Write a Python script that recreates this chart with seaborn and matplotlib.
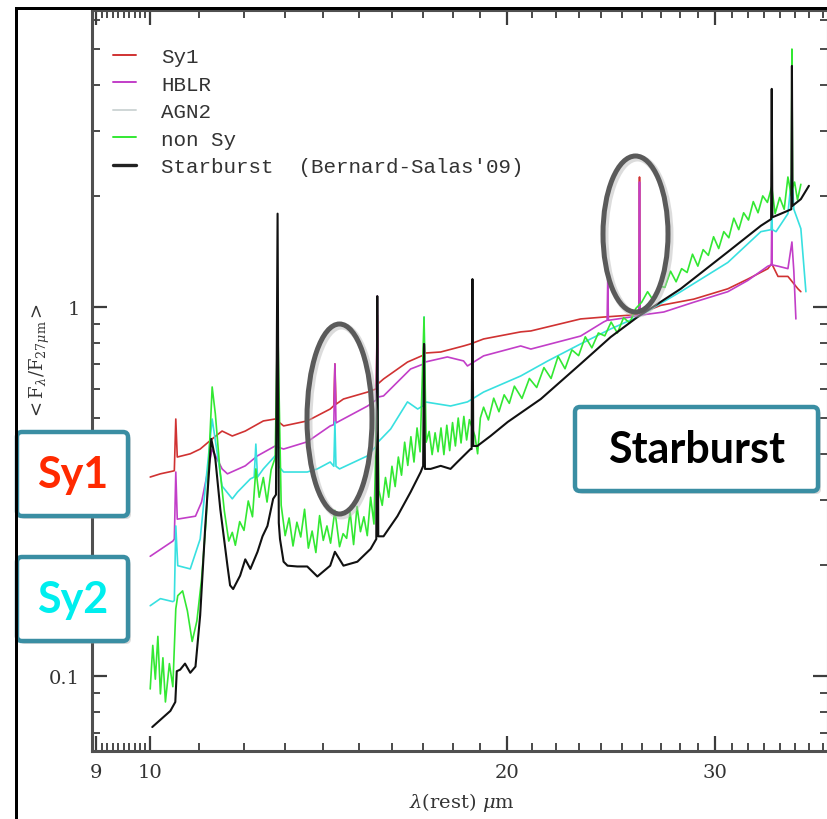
import numpy as np
import pandas as pd
import matplotlib
matplotlib.use("Agg")
import matplotlib.pyplot as plt
import seaborn as sns
from matplotlib.patches import FancyBboxPatch, Ellipse, Rectangle
from matplotlib.lines import Line2D
from matplotlib.transforms import Affine2D
from matplotlib.ticker import NullFormatter

# ---------------- data ----------------
sy1_wave = [10.00, 10.20, 10.45, 10.48, 10.51, 10.54, 10.81, 11.02, 11.28, 11.50, 11.73, 12.03,
            12.46, 12.75, 12.96, 13.57, 14.19, 14.29, 14.32, 14.35, 14.56, 15.26, 15.52, 15.55,
            15.58, 15.74, 16.49, 17.00, 17.03, 17.06, 17.59, 18.39, 18.64, 19.12, 20.55, 20.96,
            23.09, 24.15, 25.40, 25.86, 25.89, 25.92, 26.98, 28.77, 30.74, 31.96, 33.23, 33.48,
            33.89, 34.55, 35.23, 35.43]
sy1_flux = [0.346, 0.353, 0.359, 0.360, 0.497, 0.392, 0.400, 0.412, 0.439, 0.461, 0.447, 0.461,
            0.491, 0.497, 0.476, 0.491, 0.529, 0.540, 0.701, 0.545, 0.563, 0.588, 0.600, 0.950,
            0.620, 0.638, 0.709, 0.740, 0.800, 0.750, 0.755, 0.784, 0.794, 0.819, 0.856, 0.861,
            0.928, 0.939, 0.950, 0.957, 2.25, 0.960, 1.01, 1.05, 1.12, 1.19, 1.27, 1.31,
            1.21, 1.21, 1.12, 1.10]

hblr_wave = [10.00, 10.45, 10.48, 10.51, 10.54, 10.92, 11.05, 11.28, 11.50, 11.62, 12.03, 12.32,
             12.75, 12.96, 13.57, 14.19, 14.29, 14.32, 14.35, 15.26, 15.52, 15.55, 15.58, 15.74,
             16.59, 17.00, 17.03, 17.06, 17.82, 18.39, 18.53, 19.12, 20.55, 20.96, 23.09, 24.15,
             24.31, 24.34, 24.37, 25.45, 25.86, 25.89, 25.92, 27.14, 28.77, 30.74, 31.96, 33.23,
             33.45, 33.48, 33.51, 33.89, 34.55, 34.82, 34.95, 35.09]
hblr_flux = [0.211, 0.232, 0.235, 0.357, 0.266, 0.271, 0.296, 0.412, 0.364, 0.353, 0.371, 0.395,
             0.420, 0.412, 0.431, 0.476, 0.480, 0.701, 0.485, 0.539, 0.560, 1.07, 0.570, 0.574,
             0.679, 0.700, 0.820, 0.709, 0.732, 0.714, 0.692, 0.737, 0.784, 0.769, 0.834, 0.911,
             0.920, 1.19, 0.920, 0.939, 0.950, 2.18, 0.950, 0.969, 1.03, 1.10, 1.18, 1.29,
             1.30, 1.73, 1.30, 1.29, 1.27, 1.50, 1.25, 0.928]

agn2_wave = [10.00, 10.20, 10.45, 10.48, 10.51, 10.55, 10.81, 11.02, 11.28, 11.50, 11.73, 11.85,
             12.15, 12.24, 12.28, 12.32, 12.46, 12.75, 12.78, 12.81, 12.84, 12.96, 13.57, 13.84,
             14.19, 14.29, 14.32, 14.35, 14.45, 15.26, 15.52, 15.55, 15.58, 15.96, 16.49, 16.82,
             17.00, 17.03, 17.06, 17.93, 18.53, 19.12, 20.55, 21.66, 23.09, 24.48, 25.79, 28.05,
             30.74, 32.78, 33.44, 33.48, 33.52, 33.76, 34.55, 34.82, 34.95, 35.43, 35.78]
agn2_flux = [0.155, 0.162, 0.159, 0.160, 0.255, 0.199, 0.195, 0.235, 0.497, 0.327, 0.302, 0.315,
             0.342, 0.346, 0.425, 0.346, 0.364, 0.395, 0.390, 0.600, 0.370, 0.357, 0.357, 0.364,
             0.380, 0.370, 0.488, 0.370, 0.364, 0.395, 0.420, 0.750, 0.431, 0.467, 0.553, 0.529,
             0.540, 0.939, 0.553, 0.539, 0.553, 0.588, 0.650, 0.714, 0.794, 0.872, 0.939, 1.10,
             1.32, 1.60, 1.62, 1.76, 1.62, 1.60, 1.79, 2.30, 1.84, 1.63, 1.10]

nonsy_wave = [10.00, 10.05, 10.10, 10.15, 10.20, 10.25, 10.30, 10.38, 10.45, 10.51, 10.55, 10.65,
              10.75, 10.85, 10.95, 11.05, 11.15, 11.24, 11.28, 11.35, 11.45, 11.55, 11.65, 11.73,
              11.80, 11.90, 12.00, 12.10, 12.20, 12.28, 12.36, 12.46, 12.55, 12.65, 12.75, 12.81,
              12.90, 13.00, 13.10, 13.20, 13.30, 13.40, 13.50, 13.60, 13.70, 13.80, 13.90, 14.00,
              14.10, 14.20, 14.32, 14.45, 14.55, 14.65, 14.75, 14.85, 14.95, 15.05, 15.15, 15.25,
              15.35, 15.45, 15.55, 15.60, 15.70, 15.80, 15.90, 16.00, 16.10, 16.20, 16.30, 16.40,
              16.50, 16.60, 16.70, 16.80, 16.90, 17.03, 17.10, 17.20, 17.30, 17.40, 17.50, 17.60,
              17.70, 17.80, 17.90, 18.00, 18.10, 18.20, 18.30, 18.40, 18.50, 18.60, 18.80, 18.90,
              19.00, 19.12, 19.30, 19.50, 19.70, 19.90, 20.10, 20.30, 20.60, 20.90, 21.20, 21.50,
              21.80, 22.10, 22.40, 22.70, 23.00, 23.30, 23.60, 23.90, 24.20, 24.50, 24.80, 25.10,
              25.40, 25.70, 26.00, 26.30, 26.60, 26.90, 27.20, 27.50, 27.80, 28.10, 28.40, 28.70,
              29.00, 29.30, 29.60, 29.90, 30.20, 30.50, 30.80, 31.10, 31.40, 31.70, 32.00, 32.30,
              32.60, 32.90, 33.20, 33.48, 33.70, 34.00, 34.30, 34.55, 34.78, 34.82, 34.86, 35.00,
              35.20, 35.43]
nonsy_flux = [0.0922, 0.121, 0.098, 0.128, 0.0894, 0.112, 0.0850, 0.108, 0.0935, 0.152, 0.165, 0.170,
              0.150, 0.124, 0.141, 0.183, 0.266, 0.467, 0.607, 0.513, 0.364, 0.280, 0.232, 0.245,
              0.226, 0.262, 0.248, 0.298, 0.270, 0.364, 0.305, 0.345, 0.296, 0.362, 0.390, 0.950,
              0.290, 0.240, 0.268, 0.225, 0.261, 0.238, 0.283, 0.222, 0.247, 0.216, 0.272, 0.233,
              0.255, 0.229, 0.281, 0.224, 0.243, 0.236, 0.278, 0.227, 0.288, 0.246, 0.270, 0.240,
              0.305, 0.258, 0.600, 0.318, 0.290, 0.345, 0.305, 0.370, 0.326, 0.392, 0.350, 0.430,
              0.372, 0.445, 0.380, 0.470, 0.405, 0.939, 0.430, 0.460, 0.398, 0.456, 0.405, 0.470,
              0.398, 0.478, 0.408, 0.486, 0.420, 0.500, 0.428, 0.505, 0.436, 0.495, 0.447, 0.400,
              0.500, 0.535, 0.494, 0.566, 0.520, 0.578, 0.548, 0.610, 0.565, 0.640, 0.605, 0.685,
              0.640, 0.735, 0.680, 0.765, 0.738, 0.830, 0.775, 0.850, 0.835, 0.910, 0.850, 0.935,
              0.905, 0.990, 1.03, 1.10, 1.04, 1.14, 1.13, 1.25, 1.17, 1.27, 1.24, 1.39,
              1.29, 1.43, 1.38, 1.55, 1.44, 1.60, 1.54, 1.74, 1.62, 1.80, 1.72, 1.93,
              1.80, 2.00, 1.92, 2.12, 1.79, 1.98, 1.84, 2.25, 2.00, 5.00, 2.10, 2.18,
              1.95, 2.15]

sb_wave = [10.04, 10.40, 10.50, 10.53, 10.60, 10.70, 10.81, 10.92, 11.02, 11.13, 11.26, 11.35,
           11.46, 11.62, 11.68, 11.75, 11.91, 12.03, 12.15, 12.32, 12.44, 12.56, 12.70, 12.77,
           12.81, 12.84, 12.87, 12.96, 13.06, 13.31, 13.57, 13.84, 14.19, 14.32, 14.56, 14.96,
           15.35, 15.52, 15.55, 15.58, 15.74, 16.17, 16.59, 16.92, 17.00, 17.03, 17.06, 17.25,
           17.59, 17.93, 18.17, 18.64, 18.68, 18.71, 18.74, 18.89, 19.38, 20.04, 21.37, 23.09,
           24.48, 25.79, 28.05, 30.74, 32.78, 33.44, 33.48, 33.52, 34.09, 34.78, 34.82, 34.86,
           35.43, 35.99]
sb_flux = [0.0727, 0.0804, 0.0850, 0.103, 0.104, 0.108, 0.102, 0.106, 0.146, 0.255, 0.439, 0.387,
           0.283, 0.199, 0.176, 0.172, 0.187, 0.207, 0.195, 0.217, 0.239, 0.255, 0.302, 0.310,
           1.79, 0.260, 0.235, 0.204, 0.199, 0.198, 0.198, 0.186, 0.199, 0.217, 0.199, 0.204,
           0.221, 0.235, 1.07, 0.239, 0.239, 0.271, 0.315, 0.357, 0.371, 0.794, 0.364, 0.364,
           0.371, 0.364, 0.380, 0.412, 0.412, 1.19, 0.420, 0.420, 0.447, 0.488, 0.563, 0.701,
           0.829, 0.939, 1.12, 1.41, 1.66, 1.73, 3.90, 1.75, 1.79, 1.84, 4.50, 1.88,
           1.96, 2.13]

series_names = ["Sy1", "HBLR", "AGN2", "non Sy", "Starburst  (Bernard-Salas'09)"]
series_data = [(sy1_wave, sy1_flux), (hblr_wave, hblr_flux), (agn2_wave, agn2_flux),
               (nonsy_wave, nonsy_flux), (sb_wave, sb_flux)]

x_ticks = [9, 10, 20, 30]
x_tick_labels = ["9", "10", "20", "30"]
x_minor_ticks = [9.1, 9.2, 9.3, 9.4, 9.5, 9.6, 9.7, 9.8, 9.9, 11, 12, 13, 14, 15, 16, 17, 18, 19,
                 21, 22, 23, 24, 25, 26, 27, 28, 29, 31, 32, 33, 34, 35, 36, 37]
y_ticks = [0.1, 1]
y_tick_labels = ["0.1", "1"]
y_minor_ticks = [0.07, 0.08, 0.09, 0.2, 0.3, 0.4, 0.5, 0.6, 0.7, 0.8, 0.9, 2, 3, 4, 5, 6]

# ---------------- styles ----------------
line_colors = ["#d03232", "#c23ec8", "#38e0e0", "#33e833", "#111111"]
legend_colors = ["#d03232", "#c23ec8", "#cfd6d6", "#33e833", "#222222"]
line_widths = [1.2, 1.2, 1.2, 1.2, 1.5]

frames = []
for name, (w, f) in zip(series_names, series_data):
    assert len(w) == len(f), name
    frames.append(pd.DataFrame({"wave": w, "flux": f, "series": name}))
df = pd.concat(frames, ignore_index=True)

sns.set_theme(style="ticks")
plt.rcParams["font.family"] = ["DejaVu Serif"]
plt.rcParams["mathtext.fontset"] = "dejavuserif"

W, H = 827, 820
fig = plt.figure(figsize=(W / 100, H / 100), dpi=100)
fig.patch.set_facecolor("white")
px = Affine2D().scale(1 / W, 1 / H) + fig.transFigure  # pixel coords (origin bottom-left)

ax_left, ax_right, ax_top, ax_bottom = 92, 828, 11, 752
ax = fig.add_axes([ax_left / W, 1 - ax_bottom / H, (ax_right - ax_left) / W, (ax_bottom - ax_top) / H])

for name, col, lw in zip(series_names, line_colors, line_widths):
    sub = df[df["series"] == name]
    sns.lineplot(data=sub, x="wave", y="flux", color=col, linewidth=lw,
                 estimator=None, sort=False, ax=ax, legend=False)
ax.set_xlabel("")
ax.set_ylabel("")

fig.text(462, H - 803, r"$\lambda$(rest) $\mu$m", transform=px, ha="center", va="center",
         fontsize=14, color="#333333")
fig.text(40, H - 362, r"$<\mathrm{F}_{\lambda}/\mathrm{F}_{27\mu\mathrm{m}}>$", transform=px,
         rotation=90, ha="center", va="center", fontsize=13, color="#333333")

handles = [Line2D([0], [0], color=c, lw=(2.4 if i == 4 else 1.4)) for i, c in enumerate(legend_colors)]
leg = ax.legend(handles, series_names, loc="upper left",
                bbox_to_anchor=((113 - ax_left) / (ax_right - ax_left), 1 - (48 - ax_top) / (ax_bottom - ax_top)),
                frameon=False, prop={"family": "Liberation Mono", "size": 15},
                handlelength=1.1, handletextpad=1.2, labelspacing=0.41, borderpad=0, borderaxespad=0)
for t in leg.get_texts():
    t.set_color("#333333")

# annotation ellipses
for cx, cy, ew, eh in [(339.5, 420, 65, 190), (635.5, 235, 65, 156)]:
    fig.patches.append(Ellipse((cx + 2, H - cy - 2), ew, eh, transform=px, fill=False,
                               edgecolor="#bbbbbb", lw=5, alpha=0.5, zorder=5, figure=fig))
    fig.patches.append(Ellipse((cx, H - cy), ew, eh, transform=px, fill=False,
                               edgecolor="#5a5a5a", lw=3.6, zorder=6, figure=fig))

# annotation boxes
def add_box(x0, y0_top, w, h, text, color):
    yb = H - y0_top - h
    fig.patches.append(FancyBboxPatch((x0 + 3, yb - 3), w, h, boxstyle="round,pad=0,rounding_size=5",
                                      transform=px, facecolor="#999999", edgecolor="none", alpha=0.35,
                                      zorder=7, figure=fig))
    fig.patches.append(FancyBboxPatch((x0, yb), w, h, boxstyle="round,pad=0,rounding_size=5",
                                      transform=px, facecolor="white", edgecolor="#3a8ea3", lw=3.2,
                                      zorder=8, figure=fig))
    fig.text(x0 + w / 2, yb + h / 2, text, transform=px, ha="center", va="center",
             fontsize=31, fontweight="bold", family=["Lato", "DejaVu Sans"], color=color, zorder=9)

add_box(17, 433, 111, 84, "Sy1", "#ff2a00")
add_box(17, 558, 111, 84, "Sy2", "#00eeee")
add_box(575, 408, 243, 84, "Starburst", "#000000")

# outer frame of the screenshot (thin filled rectangles)
fig.patches.append(Rectangle((15, 0), 3, H - 8, transform=px, facecolor="black", edgecolor="none",
                             zorder=10, figure=fig))
fig.patches.append(Rectangle((15, H - 11), W - 15, 3, transform=px, facecolor="black", edgecolor="none",
                             zorder=10, figure=fig))

# ---------------- axes scales and ticks (configured last) ----------------
ax.set_xscale("log")
ax.set_yscale("log")
ax.set_xlim(8.93, 37.35)
ax.set_ylim(0.0626, 6.38)
ax.set_xticks(x_ticks)
ax.set_xticklabels(x_tick_labels)
ax.set_xticks(x_minor_ticks, minor=True)
ax.xaxis.set_minor_formatter(NullFormatter())
ax.set_yticks(y_ticks)
ax.set_yticklabels(y_tick_labels)
ax.set_yticks(y_minor_ticks, minor=True)
ax.yaxis.set_minor_formatter(NullFormatter())
ax.tick_params(which="both", direction="in", top=True, right=True, bottom=True, left=True,
               color="#3c3c3c", labelcolor="#333333", labelsize=14)
ax.tick_params(which="major", length=11, width=1.6, pad=9)
ax.tick_params(which="minor", length=6, width=1.3)
for s in ax.spines.values():
    s.set_color("#505050")
    s.set_linewidth(2.2)

fig.savefig("out.png", dpi=100, facecolor="white")
